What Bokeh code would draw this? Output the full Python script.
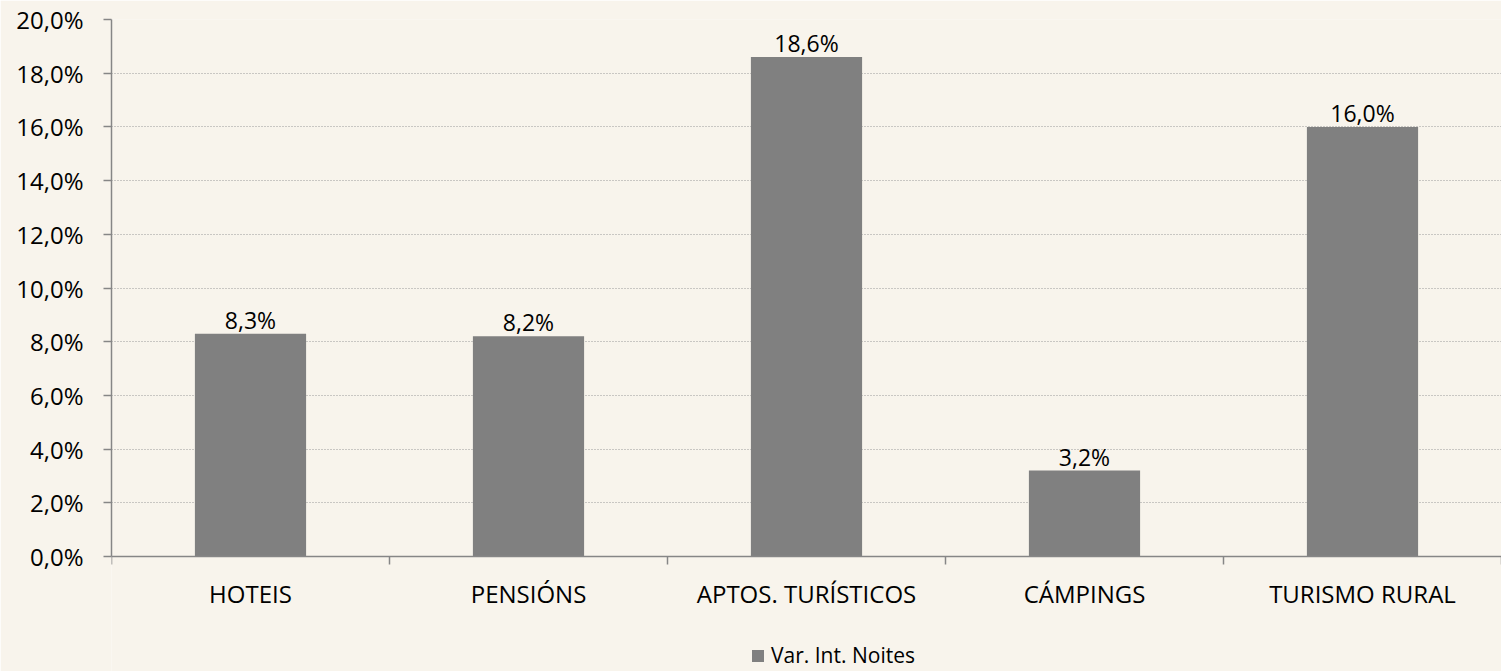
from bokeh.plotting import figure
from bokeh.models import Range1d, FixedTicker, CustomJSTickFormatter, ColumnDataSource, Legend, LegendItem
from bokeh.core.properties import value
from bokeh.embed import file_html
from bokeh.resources import INLINE

categories = ["HOTEIS", "PENSIÓNS", "APTOS. TURÍSTICOS", "CÁMPINGS", "TURISMO RURAL"]
values = [8.3, 8.2, 18.6, 3.2, 16.0]
series_name = "Var. Int. Noites"
y_ticks = [0, 2, 4, 6, 8, 10, 12, 14, 16, 18, 20]

BG = "#f8f4ec"
BAR = "#808080"
AXIS = "#868686"
FONT = "Open Sans"

xs = [i + 0.5 for i in range(len(categories))]
labels = [f"{v:.1f}".replace(".", ",") + "%" for v in values]
src = ColumnDataSource(dict(x=xs, top=values, label=labels))

# frame spans the whole lower area; y axis and grid are bounded to 0..20
p = figure(width=1501, height=671, x_range=Range1d(0, len(categories)), y_range=Range1d(-4.283, 20),
           output_backend="svg", toolbar_location=None,
           min_border_left=111, min_border_right=0, min_border_top=19, min_border_bottom=0)
p.background_fill_color = BG
p.border_fill_color = BG
p.outline_line_color = None

r = p.vbar(x="x", top="top", width=0.4, source=src, fill_color=BAR, line_color=None)
p.text(x="x", y="top", text="label", source=src, text_align="center", text_baseline="bottom",
       text_font=value(FONT), text_font_size="23px", text_color="#000000", y_offset=2)

# x axis drawn at y = 0
p.xaxis.fixed_location = 0
p.xaxis.ticker = FixedTicker(ticks=xs, minor_ticks=list(range(len(categories) + 1)))
p.xaxis.major_label_overrides = {x: c for x, c in zip(xs, categories)}
p.xaxis.major_tick_line_color = None
p.xaxis.major_tick_out = 8
p.xaxis.major_tick_in = 0
p.xaxis.minor_tick_line_color = AXIS
p.xaxis.minor_tick_line_width = 1.5
p.xaxis.minor_tick_out = 8
p.xaxis.minor_tick_in = 0
p.xaxis.axis_line_color = AXIS
p.xaxis.axis_line_width = 1.5
p.xaxis.major_label_text_font = FONT
p.xaxis.major_label_text_font_size = "24px"
p.xaxis.major_label_text_color = "#000000"
p.xaxis.major_label_standoff = 12

# y axis
p.yaxis.ticker = FixedTicker(ticks=y_ticks)
p.yaxis.bounds = (0, 20)
p.yaxis.formatter = CustomJSTickFormatter(code="return tick.toFixed(1).replace('.', ',') + '%';")
p.yaxis.minor_tick_line_color = None
p.yaxis.major_tick_line_color = AXIS
p.yaxis.major_tick_line_width = 1.5
p.yaxis.major_tick_out = 8
p.yaxis.major_tick_in = 0
p.yaxis.axis_line_color = AXIS
p.yaxis.axis_line_width = 1.5
p.yaxis.major_label_text_font = FONT
p.yaxis.major_label_text_font_size = "24px"
p.yaxis.major_label_text_color = "#000000"
p.yaxis.major_label_standoff = 20

p.xgrid.grid_line_color = None
p.ygrid.bounds = (0, 20)
p.ygrid.grid_line_color = "#9a9a9a"
p.ygrid.grid_line_dash = "1 2"
p.ygrid.grid_line_width = 1

legend = Legend(items=[LegendItem(label=series_name, renderers=[r])], location=(639, 2),
                orientation="horizontal", background_fill_alpha=0, border_line_color=None,
                label_text_font=FONT, label_text_font_size="21px", label_text_color="#000000",
                glyph_width=15, glyph_height=15, label_standoff=6, padding=0, margin=0)
p.add_layout(legend, "center")

open("out.html", "w").write(file_html(p, INLINE))
